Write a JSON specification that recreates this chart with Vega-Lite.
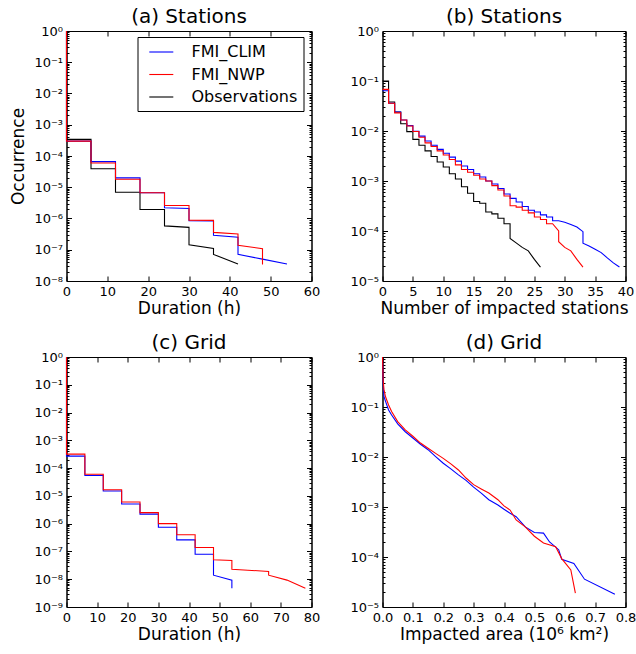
{
  "$schema": "https://vega.github.io/schema/vega-lite/v6.json",
  "padding": {"left": 8.5, "top": 6, "right": 0, "bottom": 5},
  "background": "white",
  "config": {
    "font": "DejaVu Sans",
    "view": {"stroke": "black", "strokeWidth": 1},
    "axis": {"grid": false, "domainColor": "black", "tickColor": "black", "labelColor": "black", "titleColor": "black", "labelFontSize": 13, "titleFontSize": 17, "titleFontWeight": "normal", "labelFlush": false, "labelOverlap": false, "tickSize": -5, "labelPadding": 9},
    "axisX": {"titlePadding": 2},
    "axisY": {"titlePadding": 6},
    "title": {"fontSize": 20, "fontWeight": "normal", "frame": "group", "offset": -2},
    "line": {"strokeWidth": 1.1}
  },
  "datasets": {
    "a": [
      {"s":"Observations","x":0,"y":1},{"s":"Observations","x":0,"y":3.4e-4},{"s":"Observations","x":6,"y":3.4e-4},{"s":"Observations","x":6,"y":3.9e-5},{"s":"Observations","x":12,"y":3.9e-5},{"s":"Observations","x":12,"y":6.9e-6},{"s":"Observations","x":18,"y":6.9e-6},{"s":"Observations","x":18,"y":1.95e-6},{"s":"Observations","x":24,"y":1.95e-6},{"s":"Observations","x":24,"y":5.8e-7},{"s":"Observations","x":30,"y":5.2e-7},{"s":"Observations","x":30,"y":1.45e-7},{"s":"Observations","x":36,"y":1.1e-7},{"s":"Observations","x":36,"y":7.1e-8},{"s":"Observations","x":42,"y":3.5e-8},
      {"s":"FMI_CLIM","x":0,"y":1},{"s":"FMI_CLIM","x":0,"y":3.0e-4},{"s":"FMI_CLIM","x":6,"y":3.0e-4},{"s":"FMI_CLIM","x":6,"y":6.6e-5},{"s":"FMI_CLIM","x":12,"y":6.6e-5},{"s":"FMI_CLIM","x":12,"y":2.0e-5},{"s":"FMI_CLIM","x":18,"y":2.0e-5},{"s":"FMI_CLIM","x":18,"y":6.7e-6},{"s":"FMI_CLIM","x":24,"y":6.7e-6},{"s":"FMI_CLIM","x":24,"y":2.2e-6},{"s":"FMI_CLIM","x":30,"y":2.1e-6},{"s":"FMI_CLIM","x":30,"y":8.5e-7},{"s":"FMI_CLIM","x":36,"y":8.3e-7},{"s":"FMI_CLIM","x":36,"y":2.9e-7},{"s":"FMI_CLIM","x":42,"y":2.5e-7},{"s":"FMI_CLIM","x":42,"y":7.1e-8},{"s":"FMI_CLIM","x":48,"y":5.0e-8},{"s":"FMI_CLIM","x":54,"y":3.5e-8},
      {"s":"FMI_NWP","x":0,"y":1},{"s":"FMI_NWP","x":0,"y":3.0e-4},{"s":"FMI_NWP","x":6,"y":3.0e-4},{"s":"FMI_NWP","x":6,"y":6.0e-5},{"s":"FMI_NWP","x":12,"y":6.0e-5},{"s":"FMI_NWP","x":12,"y":1.8e-5},{"s":"FMI_NWP","x":18,"y":1.8e-5},{"s":"FMI_NWP","x":18,"y":6.7e-6},{"s":"FMI_NWP","x":24,"y":6.7e-6},{"s":"FMI_NWP","x":24,"y":2.6e-6},{"s":"FMI_NWP","x":30,"y":2.6e-6},{"s":"FMI_NWP","x":30,"y":8.9e-7},{"s":"FMI_NWP","x":36,"y":8.7e-7},{"s":"FMI_NWP","x":36,"y":3.6e-7},{"s":"FMI_NWP","x":42,"y":3.2e-7},{"s":"FMI_NWP","x":42,"y":1.4e-7},{"s":"FMI_NWP","x":48,"y":1.08e-7},{"s":"FMI_NWP","x":48,"y":3.4e-8}
    ],
    "b": [
      {"s":"Observations","x":0,"y":0.1},{"s":"Observations","x":1,"y":0.1},{"s":"Observations","x":1,"y":0.038},{"s":"Observations","x":2,"y":0.038},{"s":"Observations","x":2,"y":0.024},{"s":"Observations","x":3,"y":0.024},{"s":"Observations","x":3,"y":0.014},{"s":"Observations","x":4,"y":0.014},{"s":"Observations","x":4,"y":0.0097},{"s":"Observations","x":5,"y":0.0097},{"s":"Observations","x":5,"y":0.0068},{"s":"Observations","x":6,"y":0.0068},{"s":"Observations","x":6,"y":0.0052},{"s":"Observations","x":7,"y":0.0052},{"s":"Observations","x":7,"y":0.004},{"s":"Observations","x":8,"y":0.004},{"s":"Observations","x":8,"y":0.0031},{"s":"Observations","x":9,"y":0.0031},{"s":"Observations","x":9,"y":0.0024},{"s":"Observations","x":10,"y":0.0024},{"s":"Observations","x":10,"y":0.0019},{"s":"Observations","x":11,"y":0.0019},{"s":"Observations","x":11,"y":0.0014},{"s":"Observations","x":12,"y":0.0014},{"s":"Observations","x":12,"y":0.0011},{"s":"Observations","x":13,"y":0.0011},{"s":"Observations","x":13,"y":0.00077},{"s":"Observations","x":14,"y":0.00077},{"s":"Observations","x":14,"y":0.00057},{"s":"Observations","x":15,"y":0.00057},{"s":"Observations","x":15,"y":0.00039},{"s":"Observations","x":16,"y":0.00039},{"s":"Observations","x":16,"y":0.00036},{"s":"Observations","x":17,"y":0.00036},{"s":"Observations","x":17,"y":0.00024},{"s":"Observations","x":18,"y":0.00024},{"s":"Observations","x":18,"y":0.00022},{"s":"Observations","x":19,"y":0.00022},{"s":"Observations","x":19,"y":0.00018},{"s":"Observations","x":20,"y":0.00018},{"s":"Observations","x":20,"y":0.00014},{"s":"Observations","x":21,"y":0.00014},{"s":"Observations","x":21,"y":0.000071},{"s":"Observations","x":22,"y":0.000058},{"s":"Observations","x":23,"y":0.000047},{"s":"Observations","x":24,"y":0.00004},{"s":"Observations","x":25,"y":0.000027},{"s":"Observations","x":26,"y":0.000019},
      {"s":"FMI_CLIM","x":0,"y":0.064},{"s":"FMI_CLIM","x":1,"y":0.064},{"s":"FMI_CLIM","x":1,"y":0.036},{"s":"FMI_CLIM","x":2,"y":0.036},{"s":"FMI_CLIM","x":2,"y":0.024},{"s":"FMI_CLIM","x":3,"y":0.024},{"s":"FMI_CLIM","x":3,"y":0.0166},{"s":"FMI_CLIM","x":4,"y":0.0166},{"s":"FMI_CLIM","x":4,"y":0.0128},{"s":"FMI_CLIM","x":5,"y":0.0128},{"s":"FMI_CLIM","x":5,"y":0.0099},{"s":"FMI_CLIM","x":6,"y":0.0099},{"s":"FMI_CLIM","x":6,"y":0.0079},{"s":"FMI_CLIM","x":7,"y":0.0079},{"s":"FMI_CLIM","x":7,"y":0.0063},{"s":"FMI_CLIM","x":8,"y":0.0063},{"s":"FMI_CLIM","x":8,"y":0.0052},{"s":"FMI_CLIM","x":9,"y":0.0052},{"s":"FMI_CLIM","x":9,"y":0.0043},{"s":"FMI_CLIM","x":10,"y":0.0043},{"s":"FMI_CLIM","x":10,"y":0.0036},{"s":"FMI_CLIM","x":11,"y":0.0036},{"s":"FMI_CLIM","x":11,"y":0.003},{"s":"FMI_CLIM","x":12,"y":0.003},{"s":"FMI_CLIM","x":12,"y":0.0025},{"s":"FMI_CLIM","x":13,"y":0.0025},{"s":"FMI_CLIM","x":13,"y":0.002},{"s":"FMI_CLIM","x":14,"y":0.002},{"s":"FMI_CLIM","x":14,"y":0.0017},{"s":"FMI_CLIM","x":15,"y":0.0017},{"s":"FMI_CLIM","x":15,"y":0.0014},{"s":"FMI_CLIM","x":16,"y":0.0014},{"s":"FMI_CLIM","x":16,"y":0.0012},{"s":"FMI_CLIM","x":17,"y":0.0012},{"s":"FMI_CLIM","x":17,"y":0.001},{"s":"FMI_CLIM","x":18,"y":0.001},{"s":"FMI_CLIM","x":18,"y":0.00087},{"s":"FMI_CLIM","x":19,"y":0.00087},{"s":"FMI_CLIM","x":19,"y":0.00071},{"s":"FMI_CLIM","x":20,"y":0.00071},{"s":"FMI_CLIM","x":20,"y":0.00055},{"s":"FMI_CLIM","x":21,"y":0.00055},{"s":"FMI_CLIM","x":21,"y":0.00045},{"s":"FMI_CLIM","x":22,"y":0.00045},{"s":"FMI_CLIM","x":22,"y":0.00038},{"s":"FMI_CLIM","x":23,"y":0.00038},{"s":"FMI_CLIM","x":23,"y":0.00031},{"s":"FMI_CLIM","x":24,"y":0.00031},{"s":"FMI_CLIM","x":24,"y":0.00026},{"s":"FMI_CLIM","x":25,"y":0.00026},{"s":"FMI_CLIM","x":25,"y":0.00024},{"s":"FMI_CLIM","x":26,"y":0.00024},{"s":"FMI_CLIM","x":26,"y":0.00021},{"s":"FMI_CLIM","x":27,"y":0.00021},{"s":"FMI_CLIM","x":27,"y":0.00019},{"s":"FMI_CLIM","x":28,"y":0.00019},{"s":"FMI_CLIM","x":28,"y":0.00016},{"s":"FMI_CLIM","x":29,"y":0.00016},{"s":"FMI_CLIM","x":30,"y":0.00015},{"s":"FMI_CLIM","x":31,"y":0.000135},{"s":"FMI_CLIM","x":32,"y":0.00012},{"s":"FMI_CLIM","x":33,"y":0.000097},{"s":"FMI_CLIM","x":33,"y":0.000057},{"s":"FMI_CLIM","x":34,"y":0.00005},{"s":"FMI_CLIM","x":35,"y":0.000043},{"s":"FMI_CLIM","x":36,"y":0.000037},{"s":"FMI_CLIM","x":37,"y":0.000029},{"s":"FMI_CLIM","x":38,"y":0.000023},{"s":"FMI_CLIM","x":39,"y":0.000019},
      {"s":"FMI_NWP","x":0,"y":0.068},{"s":"FMI_NWP","x":1,"y":0.068},{"s":"FMI_NWP","x":1,"y":0.036},{"s":"FMI_NWP","x":2,"y":0.036},{"s":"FMI_NWP","x":2,"y":0.023},{"s":"FMI_NWP","x":3,"y":0.023},{"s":"FMI_NWP","x":3,"y":0.0166},{"s":"FMI_NWP","x":4,"y":0.0166},{"s":"FMI_NWP","x":4,"y":0.0126},{"s":"FMI_NWP","x":5,"y":0.0126},{"s":"FMI_NWP","x":5,"y":0.0098},{"s":"FMI_NWP","x":6,"y":0.0098},{"s":"FMI_NWP","x":6,"y":0.0075},{"s":"FMI_NWP","x":7,"y":0.0075},{"s":"FMI_NWP","x":7,"y":0.0058},{"s":"FMI_NWP","x":8,"y":0.0058},{"s":"FMI_NWP","x":8,"y":0.0049},{"s":"FMI_NWP","x":9,"y":0.0049},{"s":"FMI_NWP","x":9,"y":0.004},{"s":"FMI_NWP","x":10,"y":0.004},{"s":"FMI_NWP","x":10,"y":0.0033},{"s":"FMI_NWP","x":11,"y":0.0033},{"s":"FMI_NWP","x":11,"y":0.0027},{"s":"FMI_NWP","x":12,"y":0.0027},{"s":"FMI_NWP","x":12,"y":0.0021},{"s":"FMI_NWP","x":13,"y":0.0021},{"s":"FMI_NWP","x":13,"y":0.0017},{"s":"FMI_NWP","x":14,"y":0.0017},{"s":"FMI_NWP","x":14,"y":0.0015},{"s":"FMI_NWP","x":15,"y":0.0015},{"s":"FMI_NWP","x":15,"y":0.0013},{"s":"FMI_NWP","x":16,"y":0.0013},{"s":"FMI_NWP","x":16,"y":0.0011},{"s":"FMI_NWP","x":17,"y":0.0011},{"s":"FMI_NWP","x":17,"y":0.001},{"s":"FMI_NWP","x":18,"y":0.001},{"s":"FMI_NWP","x":18,"y":0.00081},{"s":"FMI_NWP","x":19,"y":0.00081},{"s":"FMI_NWP","x":19,"y":0.00066},{"s":"FMI_NWP","x":20,"y":0.00066},{"s":"FMI_NWP","x":20,"y":0.0005},{"s":"FMI_NWP","x":21,"y":0.0005},{"s":"FMI_NWP","x":21,"y":0.00032},{"s":"FMI_NWP","x":22,"y":0.00032},{"s":"FMI_NWP","x":22,"y":0.0003},{"s":"FMI_NWP","x":23,"y":0.0003},{"s":"FMI_NWP","x":23,"y":0.00026},{"s":"FMI_NWP","x":24,"y":0.00026},{"s":"FMI_NWP","x":24,"y":0.00023},{"s":"FMI_NWP","x":25,"y":0.00023},{"s":"FMI_NWP","x":25,"y":0.00019},{"s":"FMI_NWP","x":26,"y":0.00019},{"s":"FMI_NWP","x":26,"y":0.00017},{"s":"FMI_NWP","x":27,"y":0.00017},{"s":"FMI_NWP","x":27,"y":0.00014},{"s":"FMI_NWP","x":28,"y":0.00014},{"s":"FMI_NWP","x":29,"y":0.0001},{"s":"FMI_NWP","x":29,"y":0.000061},{"s":"FMI_NWP","x":30,"y":0.000047},{"s":"FMI_NWP","x":31,"y":0.00004},{"s":"FMI_NWP","x":32,"y":0.000027},{"s":"FMI_NWP","x":33,"y":0.000019}
    ],
    "c": [
      {"s":"FMI_CLIM","x":0,"y":1},{"s":"FMI_CLIM","x":0,"y":2.7e-4},{"s":"FMI_CLIM","x":6,"y":2.7e-4},{"s":"FMI_CLIM","x":6,"y":5.4e-5},{"s":"FMI_CLIM","x":12,"y":5.4e-5},{"s":"FMI_CLIM","x":12,"y":1.5e-5},{"s":"FMI_CLIM","x":18,"y":1.5e-5},{"s":"FMI_CLIM","x":18,"y":5.1e-6},{"s":"FMI_CLIM","x":24,"y":5.1e-6},{"s":"FMI_CLIM","x":24,"y":2.2e-6},{"s":"FMI_CLIM","x":30,"y":2.2e-6},{"s":"FMI_CLIM","x":30,"y":7.4e-7},{"s":"FMI_CLIM","x":36,"y":7.4e-7},{"s":"FMI_CLIM","x":36,"y":2.6e-7},{"s":"FMI_CLIM","x":42,"y":2.6e-7},{"s":"FMI_CLIM","x":42,"y":7.9e-8},{"s":"FMI_CLIM","x":48,"y":7.9e-8},{"s":"FMI_CLIM","x":48,"y":1.4e-8},{"s":"FMI_CLIM","x":54,"y":9.3e-9},{"s":"FMI_CLIM","x":54,"y":4.7e-9},
      {"s":"FMI_NWP","x":0,"y":1},{"s":"FMI_NWP","x":0,"y":3.2e-4},{"s":"FMI_NWP","x":6,"y":3.2e-4},{"s":"FMI_NWP","x":6,"y":6.0e-5},{"s":"FMI_NWP","x":12,"y":6.0e-5},{"s":"FMI_NWP","x":12,"y":1.67e-5},{"s":"FMI_NWP","x":18,"y":1.67e-5},{"s":"FMI_NWP","x":18,"y":6.0e-6},{"s":"FMI_NWP","x":24,"y":6.0e-6},{"s":"FMI_NWP","x":24,"y":2.5e-6},{"s":"FMI_NWP","x":30,"y":2.5e-6},{"s":"FMI_NWP","x":30,"y":1.0e-6},{"s":"FMI_NWP","x":36,"y":1.0e-6},{"s":"FMI_NWP","x":36,"y":4.0e-7},{"s":"FMI_NWP","x":42,"y":4.0e-7},{"s":"FMI_NWP","x":42,"y":1.38e-7},{"s":"FMI_NWP","x":48,"y":1.38e-7},{"s":"FMI_NWP","x":48,"y":5.0e-8},{"s":"FMI_NWP","x":54,"y":4.7e-8},{"s":"FMI_NWP","x":54,"y":2.3e-8},{"s":"FMI_NWP","x":66,"y":1.9e-8},{"s":"FMI_NWP","x":66,"y":1.4e-8},{"s":"FMI_NWP","x":72,"y":9.3e-9},{"s":"FMI_NWP","x":78,"y":4.7e-9}
    ],
    "d": [
      {"s":"FMI_CLIM","x":0,"y":1},{"s":"FMI_CLIM","x":0.002,"y":0.3},{"s":"FMI_CLIM","x":0.005,"y":0.16},{"s":"FMI_CLIM","x":0.01,"y":0.13},{"s":"FMI_CLIM","x":0.02,"y":0.087},{"s":"FMI_CLIM","x":0.03,"y":0.069},{"s":"FMI_CLIM","x":0.05,"y":0.046},{"s":"FMI_CLIM","x":0.075,"y":0.032},{"s":"FMI_CLIM","x":0.1,"y":0.024},{"s":"FMI_CLIM","x":0.125,"y":0.018},{"s":"FMI_CLIM","x":0.15,"y":0.014},{"s":"FMI_CLIM","x":0.175,"y":0.0102},{"s":"FMI_CLIM","x":0.2,"y":0.0075},{"s":"FMI_CLIM","x":0.225,"y":0.0058},{"s":"FMI_CLIM","x":0.25,"y":0.0044},{"s":"FMI_CLIM","x":0.275,"y":0.0034},{"s":"FMI_CLIM","x":0.3,"y":0.0025},{"s":"FMI_CLIM","x":0.325,"y":0.0019},{"s":"FMI_CLIM","x":0.35,"y":0.0014},{"s":"FMI_CLIM","x":0.38,"y":0.0011},{"s":"FMI_CLIM","x":0.4,"y":0.0009},{"s":"FMI_CLIM","x":0.42,"y":0.00075},{"s":"FMI_CLIM","x":0.44,"y":0.00064},{"s":"FMI_CLIM","x":0.47,"y":0.0004},{"s":"FMI_CLIM","x":0.5,"y":0.00031},{"s":"FMI_CLIM","x":0.53,"y":0.0003},{"s":"FMI_CLIM","x":0.55,"y":0.0002},{"s":"FMI_CLIM","x":0.58,"y":0.00014},{"s":"FMI_CLIM","x":0.59,"y":0.00009},{"s":"FMI_CLIM","x":0.63,"y":0.000074},{"s":"FMI_CLIM","x":0.665,"y":0.000036},{"s":"FMI_CLIM","x":0.765,"y":0.000018},
      {"s":"FMI_NWP","x":0,"y":1},{"s":"FMI_NWP","x":0.002,"y":0.35},{"s":"FMI_NWP","x":0.005,"y":0.22},{"s":"FMI_NWP","x":0.01,"y":0.16},{"s":"FMI_NWP","x":0.02,"y":0.11},{"s":"FMI_NWP","x":0.03,"y":0.081},{"s":"FMI_NWP","x":0.05,"y":0.051},{"s":"FMI_NWP","x":0.075,"y":0.035},{"s":"FMI_NWP","x":0.1,"y":0.026},{"s":"FMI_NWP","x":0.125,"y":0.019},{"s":"FMI_NWP","x":0.15,"y":0.015},{"s":"FMI_NWP","x":0.175,"y":0.0118},{"s":"FMI_NWP","x":0.2,"y":0.0094},{"s":"FMI_NWP","x":0.225,"y":0.0073},{"s":"FMI_NWP","x":0.25,"y":0.0055},{"s":"FMI_NWP","x":0.275,"y":0.0038},{"s":"FMI_NWP","x":0.3,"y":0.0028},{"s":"FMI_NWP","x":0.325,"y":0.0023},{"s":"FMI_NWP","x":0.35,"y":0.0019},{"s":"FMI_NWP","x":0.38,"y":0.0014},{"s":"FMI_NWP","x":0.4,"y":0.00105},{"s":"FMI_NWP","x":0.42,"y":0.00087},{"s":"FMI_NWP","x":0.44,"y":0.00055},{"s":"FMI_NWP","x":0.47,"y":0.0004},{"s":"FMI_NWP","x":0.5,"y":0.00026},{"s":"FMI_NWP","x":0.53,"y":0.00019},{"s":"FMI_NWP","x":0.57,"y":0.00016},{"s":"FMI_NWP","x":0.59,"y":0.000093},{"s":"FMI_NWP","x":0.62,"y":0.000055},{"s":"FMI_NWP","x":0.635,"y":0.000019}
    ]
  },
  "concat": [
    {
      "title": "(a) Stations",
      "width": 245, "height": 250,
      "data": {"name": "a"},
      "layer": [
        {"mark": {"type": "line"},
         "encoding": {
           "x": {"field": "x", "type": "quantitative", "scale": {"domain": [0, 60], "nice": false, "zero": false}, "axis": {"title": "Duration (h)", "values": [0,10,20,30,40,50,60]}},
           "y": {"field": "y", "type": "quantitative", "scale": {"type": "log", "domain": [1e-8, 1], "nice": false}, "axis": {"title": "Occurrence", "tickCount": 20, "tickSize": {"condition": {"test": "abs(log(datum.value)/LN10 - round(log(datum.value)/LN10)) > 0.001", "value": -2.5}, "value": -5}, "labelExpr": "abs(log(datum.value)/LN10 - round(log(datum.value)/LN10)) > 0.001 ? '' : '10' + (round(log(datum.value)/LN10) < 0 ? '⁻' : '') + substring('⁰¹²³⁴⁵⁶⁷⁸⁹', abs(round(log(datum.value)/LN10)), abs(round(log(datum.value)/LN10)) + 1)"}},
           "color": {"field": "s", "type": "nominal", "scale": {"domain": ["FMI_CLIM", "FMI_NWP", "Observations"], "range": ["#0000ff", "#ff0000", "#000000"]},
             "legend": {"orient": "none", "legendX": 71, "legendY": 6, "title": null, "strokeColor": "black", "fillColor": "white", "padding": 6, "cornerRadius": 0, "symbolType": "M-0.4,0H2.6", "symbolSize": 256, "symbolStrokeWidth": 1.3, "labelFontSize": 16, "labelOffset": 30, "rowPadding": 5.5}}
         }},
        {"mark": {"type": "line", "strokeOpacity": 0},
         "encoding": {
           "x": {"field": "x", "type": "quantitative", "axis": {"orient": "top", "title": null, "labels": false, "values": [0,10,20,30,40,50,60]}},
           "y": {"field": "y", "type": "quantitative", "axis": {"orient": "right", "title": null, "labels": false, "tickCount": 20, "tickSize": {"condition": {"test": "abs(log(datum.value)/LN10 - round(log(datum.value)/LN10)) > 0.001", "value": -2.5}, "value": -5}}},
           "detail": {"field": "s"}
         }}
      ],
      "resolve": {"axis": {"x": "independent", "y": "independent"}}
    },
    {
      "title": "(b) Stations",
      "width": 243, "height": 250,
      "data": {"name": "b"},
      "layer": [
        {"mark": {"type": "line"},
         "encoding": {
           "x": {"field": "x", "type": "quantitative", "scale": {"domain": [0, 40], "nice": false, "zero": false}, "axis": {"title": "Number of impacted stations", "values": [0,5,10,15,20,25,30,35,40]}},
           "y": {"field": "y", "type": "quantitative", "scale": {"type": "log", "domain": [1e-5, 1], "nice": false}, "axis": {"title": null, "tickCount": 20, "tickSize": {"condition": {"test": "abs(log(datum.value)/LN10 - round(log(datum.value)/LN10)) > 0.001", "value": -2.5}, "value": -5}, "labelExpr": "abs(log(datum.value)/LN10 - round(log(datum.value)/LN10)) > 0.001 ? '' : '10' + (round(log(datum.value)/LN10) < 0 ? '⁻' : '') + substring('⁰¹²³⁴⁵⁶⁷⁸⁹', abs(round(log(datum.value)/LN10)), abs(round(log(datum.value)/LN10)) + 1)"}},
           "color": {"field": "s", "type": "nominal", "legend": null}
         }},
        {"mark": {"type": "line", "strokeOpacity": 0},
         "encoding": {
           "x": {"field": "x", "type": "quantitative", "axis": {"orient": "top", "title": null, "labels": false, "values": [0,5,10,15,20,25,30,35,40]}},
           "y": {"field": "y", "type": "quantitative", "axis": {"orient": "right", "title": null, "labels": false, "tickCount": 20, "tickSize": {"condition": {"test": "abs(log(datum.value)/LN10 - round(log(datum.value)/LN10)) > 0.001", "value": -2.5}, "value": -5}}},
           "detail": {"field": "s"}
         }}
      ],
      "resolve": {"axis": {"x": "independent", "y": "independent"}}
    },
    {
      "title": "(c) Grid",
      "width": 245, "height": 250,
      "data": {"name": "c"},
      "layer": [
        {"mark": {"type": "line"},
         "encoding": {
           "x": {"field": "x", "type": "quantitative", "scale": {"domain": [0, 80], "nice": false, "zero": false}, "axis": {"title": "Duration (h)", "values": [0,10,20,30,40,50,60,70,80]}},
           "y": {"field": "y", "type": "quantitative", "scale": {"type": "log", "domain": [1e-9, 1], "nice": false}, "axis": {"title": null, "tickCount": 20, "tickSize": {"condition": {"test": "abs(log(datum.value)/LN10 - round(log(datum.value)/LN10)) > 0.001", "value": -2.5}, "value": -5}, "labelExpr": "abs(log(datum.value)/LN10 - round(log(datum.value)/LN10)) > 0.001 ? '' : '10' + (round(log(datum.value)/LN10) < 0 ? '⁻' : '') + substring('⁰¹²³⁴⁵⁶⁷⁸⁹', abs(round(log(datum.value)/LN10)), abs(round(log(datum.value)/LN10)) + 1)"}},
           "color": {"field": "s", "type": "nominal", "legend": null}
         }},
        {"mark": {"type": "line", "strokeOpacity": 0},
         "encoding": {
           "x": {"field": "x", "type": "quantitative", "axis": {"orient": "top", "title": null, "labels": false, "values": [0,10,20,30,40,50,60,70,80]}},
           "y": {"field": "y", "type": "quantitative", "axis": {"orient": "right", "title": null, "labels": false, "tickCount": 20, "tickSize": {"condition": {"test": "abs(log(datum.value)/LN10 - round(log(datum.value)/LN10)) > 0.001", "value": -2.5}, "value": -5}}},
           "detail": {"field": "s"}
         }}
      ],
      "resolve": {"axis": {"x": "independent", "y": "independent"}}
    },
    {
      "title": "(d) Grid",
      "width": 243, "height": 250,
      "data": {"name": "d"},
      "layer": [
        {"mark": {"type": "line"},
         "encoding": {
           "x": {"field": "x", "type": "quantitative", "scale": {"domain": [0, 0.8], "nice": false, "zero": false}, "axis": {"title": "Impacted area (10⁶ km²)", "values": [0,0.1,0.2,0.3,0.4,0.5,0.6,0.7,0.8], "format": ".1f"}},
           "y": {"field": "y", "type": "quantitative", "scale": {"type": "log", "domain": [1e-5, 1], "nice": false}, "axis": {"title": null, "tickCount": 20, "tickSize": {"condition": {"test": "abs(log(datum.value)/LN10 - round(log(datum.value)/LN10)) > 0.001", "value": -2.5}, "value": -5}, "labelExpr": "abs(log(datum.value)/LN10 - round(log(datum.value)/LN10)) > 0.001 ? '' : '10' + (round(log(datum.value)/LN10) < 0 ? '⁻' : '') + substring('⁰¹²³⁴⁵⁶⁷⁸⁹', abs(round(log(datum.value)/LN10)), abs(round(log(datum.value)/LN10)) + 1)"}},
           "color": {"field": "s", "type": "nominal", "legend": null}
         }},
        {"mark": {"type": "line", "strokeOpacity": 0},
         "encoding": {
           "x": {"field": "x", "type": "quantitative", "axis": {"orient": "top", "title": null, "labels": false, "values": [0,0.1,0.2,0.3,0.4,0.5,0.6,0.7,0.8]}},
           "y": {"field": "y", "type": "quantitative", "axis": {"orient": "right", "title": null, "labels": false, "tickCount": 20, "tickSize": {"condition": {"test": "abs(log(datum.value)/LN10 - round(log(datum.value)/LN10)) > 0.001", "value": -2.5}, "value": -5}}},
           "detail": {"field": "s"}
         }}
      ],
      "resolve": {"axis": {"x": "independent", "y": "independent"}}
    }
  ],
  "columns": 2,
  "spacing": {"row": 76, "column": 71},
  "bounds": "flush"
}
